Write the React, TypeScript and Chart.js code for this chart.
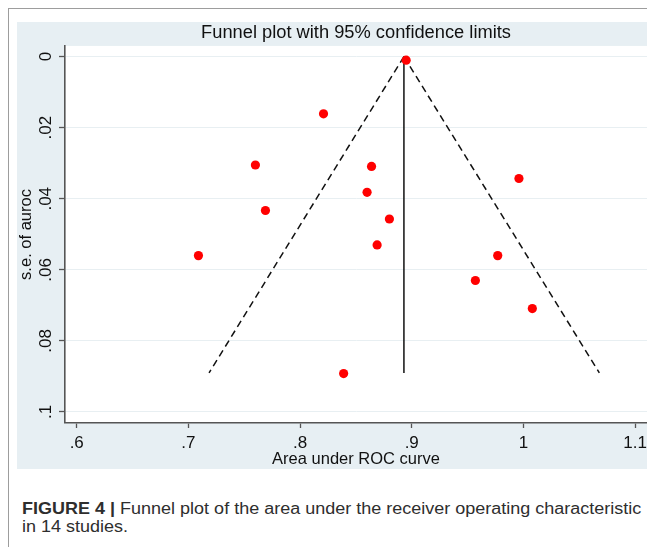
import React, { useEffect, useRef } from 'react';
import { Chart, registerables } from 'chart.js';

Chart.register(...registerables);

// Study estimates (area under ROC curve) and their standard errors
const aucValues = [0.895, 0.821, 0.760, 0.769, 0.709, 0.864, 0.860, 0.880, 0.869, 0.996, 0.977, 0.957, 1.008, 0.839];
const seValues = [0.001, 0.0161, 0.0305, 0.0433, 0.0560, 0.0309, 0.0382, 0.0457, 0.0530, 0.0343, 0.0560, 0.0630, 0.0709, 0.0892];

// Funnel (pooled estimate and 95% limits)
const pooledAuc = 0.893;
const funnelSeTop = 0;
const funnelSeBottom = 0.089;
const funnelLowerAtBottom = 0.7185;
const funnelUpperAtBottom = 1.068;

// Axes
const xTickValues = [0.6, 0.7, 0.8, 0.9, 1.0, 1.1];
const yTickValues = [0, 0.02, 0.04, 0.06, 0.08, 0.1];
const xMin = 0.5895;
const xMax = 1.1107;
const yMin = -0.003;
const yMax = 0.1031;

const titleText = 'Funnel plot with 95% confidence limits';
const xTitle = 'Area under ROC curve';
const yTitle = 's.e. of auroc';
const captionBold = 'FIGURE 4 |';
const captionLine1 = ' Funnel plot of the area under the receiver operating characteristic';
const captionLine2 = 'in 14 studies.';

const FONT = "'Liberation Sans', Arial, Helvetica, sans-serif";

const fmt = (v: number) => {
  const s = String(Math.round(v * 1000) / 1000);
  return s.replace(/^0\./, '.');
};

const plotBg = {
  id: 'plotBg',
  beforeDraw(chart: any) {
    const { ctx, chartArea } = chart;
    ctx.save();
    ctx.fillStyle = '#ffffff';
    ctx.fillRect(chartArea.left, chartArea.top, chartArea.right - chartArea.left, chartArea.bottom - chartArea.top);
    ctx.restore();
  },
};

export default function App() {
  const ref = useRef<HTMLCanvasElement | null>(null);

  useEffect(() => {
    document.body.style.overflow = 'hidden';
    const canvas = ref.current;
    if (!canvas) return;
    const points = aucValues.map((x, i) => ({ x, y: seValues[i] }));
    const chart = new Chart(canvas, {
      type: 'scatter',
      data: {
        datasets: [
          {
            label: 'studies',
            data: points,
            backgroundColor: '#ff0000',
            borderWidth: 0,
            pointRadius: 4.6,
            pointHoverRadius: 4.6,
          },
          {
            label: 'pooled',
            data: [
              { x: pooledAuc, y: funnelSeTop },
              { x: pooledAuc, y: funnelSeBottom },
            ],
            showLine: true,
            borderColor: '#111111',
            borderWidth: 1.5,
            pointRadius: 0,
          },
          {
            label: 'lower',
            data: [
              { x: pooledAuc, y: funnelSeTop },
              { x: funnelLowerAtBottom, y: funnelSeBottom },
            ],
            showLine: true,
            borderColor: '#111111',
            borderWidth: 1.5,
            borderDash: [7, 4.5],
            pointRadius: 0,
          },
          {
            label: 'upper',
            data: [
              { x: pooledAuc, y: funnelSeTop },
              { x: funnelUpperAtBottom, y: funnelSeBottom },
            ],
            showLine: true,
            borderColor: '#111111',
            borderWidth: 1.5,
            borderDash: [7, 4.5],
            pointRadius: 0,
          },
        ],
      },
      options: {
        animation: false,
        responsive: false,
        maintainAspectRatio: false,
        layout: { padding: { left: 0, right: 4, top: 0, bottom: 0 } },
        plugins: {
          legend: { display: false },
          tooltip: { enabled: false },
          title: {
            display: true,
            text: titleText,
            fullSize: false,
            color: '#111111',
            font: { family: FONT, size: 18.3, weight: 'normal', lineHeight: 1.2 },
            padding: { top: 0, bottom: 2 },
          },
        },
        scales: {
          x: {
            type: 'linear',
            min: xMin,
            max: xMax,
            afterBuildTicks: (s: any) => {
              s.ticks = xTickValues.map((v) => ({ value: v }));
            },
            afterFit: (s: any) => {
              s.height = 46;
            },
            ticks: {
              autoSkip: false,
              maxRotation: 0,
              minRotation: 0,
              padding: 5,
              color: '#111111',
              font: { family: FONT, size: 17 },
              callback: (v: any) => fmt(Number(v)),
            },
            grid: {
              drawOnChartArea: false,
              drawTicks: true,
              tickLength: 5,
              tickColor: '#555555',
              tickWidth: 1.3,
            },
            border: { display: true, color: '#555555', width: 1.6 },
            title: {
              display: true,
              text: xTitle,
              color: '#111111',
              font: { family: FONT, size: 16.5, lineHeight: 1.2 },
              padding: { top: 0, bottom: 0 },
            },
          },
          y: {
            type: 'linear',
            reverse: true,
            min: yMin,
            max: yMax,
            afterBuildTicks: (s: any) => {
              s.ticks = yTickValues.map((v) => ({ value: v }));
            },
            afterFit: (s: any) => {
              s.width = 48;
            },
            ticks: {
              autoSkip: false,
              minRotation: 90,
              maxRotation: 90,
              crossAlign: 'center',
              padding: 1,
              color: '#111111',
              font: { family: FONT, size: 17 },
              callback: (v: any) => fmt(Number(v)),
            },
            grid: {
              drawOnChartArea: true,
              color: '#e8eff2',
              lineWidth: 1,
              drawTicks: true,
              tickLength: 6,
              tickColor: '#555555',
              tickWidth: 1.3,
            },
            border: { display: true, color: '#555555', width: 1.6 },
            title: {
              display: true,
              text: yTitle,
              color: '#111111',
              font: { family: FONT, size: 16.5, lineHeight: 1.2 },
              padding: { top: 0, bottom: 0 },
            },
          },
        },
      },
      plugins: [plotBg],
    } as any);
    return () => chart.destroy();
  }, []);

  return (
    <div style={{ position: 'relative', width: 647, height: 539 }}>
      <div style={{ position: 'absolute', left: 0, top: -1, width: 647, height: 2, background: '#9d9d9d' }} />
      <div style={{ position: 'absolute', left: -1, top: -1, width: 2, height: 548, background: '#9d9d9d' }} />
      <canvas
        ref={ref}
        width={635}
        height={447}
        style={{ position: 'absolute', left: 9, top: 14, width: 635, height: 447, background: '#e7eff3', display: 'block' }}
      />
      <div
        style={{
          position: 'absolute',
          left: 14,
          top: 492,
          width: 640,
          fontFamily: FONT,
          fontSize: 18,
          lineHeight: '20.45px',
          color: '#2e2e2e',
          whiteSpace: 'nowrap',
          transform: 'scaleY(0.88)',
          transformOrigin: 'top left',
        }}
      >
        <span style={{ fontWeight: 'bold' }}>{captionBold}</span>
        <span>{captionLine1}</span>
        <br />
        <span>{captionLine2}</span>
      </div>
    </div>
  );
}
